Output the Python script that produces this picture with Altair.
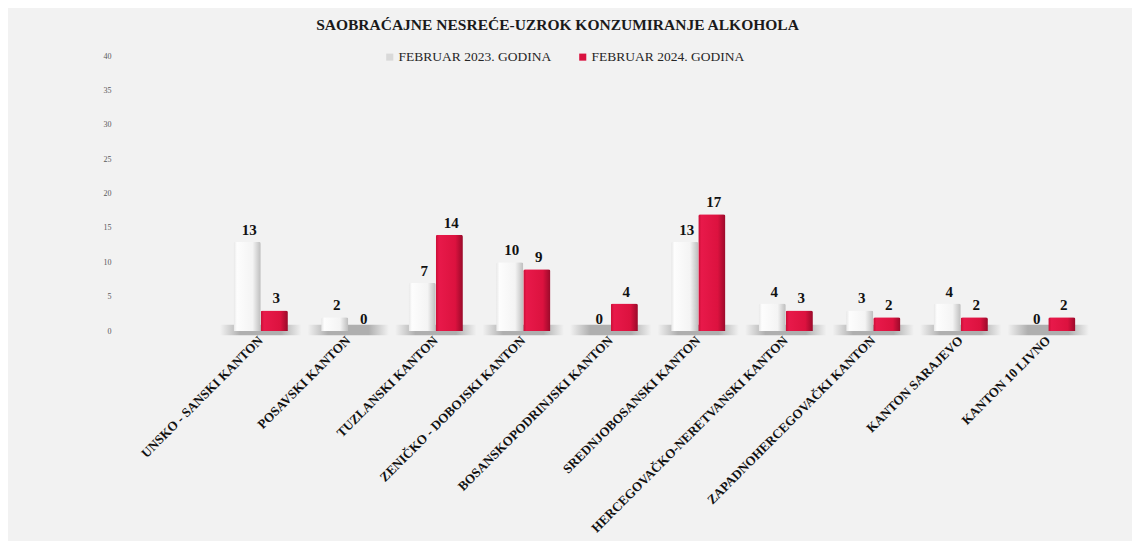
import altair as alt
import pandas as pd

categories = [
    "UNSKO - SANSKI KANTON",
    "POSAVSKI KANTON",
    "TUZLANSKI KANTON",
    "ZENIČKO - DOBOJSKI KANTON",
    "BOSANSKOPODRINJSKI KANTON",
    "SREDNJOBOSANSKI KANTON",
    "HERCEGOVAČKO-NERETVANSKI KANTON",
    "ZAPADNOHERCEGOVAČKI KANTON",
    "KANTON SARAJEVO",
    "KANTON 10 LIVNO",
]
series = ["FEBRUAR 2023. GODINA", "FEBRUAR  2024. GODINA"]
vals_2023 = [13, 2, 7, 10, 0, 13, 4, 3, 4, 0]
vals_2024 = [3, 0, 14, 9, 4, 17, 3, 2, 2, 2]
y_ticks = [0, 5, 10, 15, 20, 25, 30, 35, 40]
title_text = "SAOBRAĆAJNE NESREĆE-UZROK KONZUMIRANJE ALKOHOLA"

rows = []
for c, a, b in zip(categories, vals_2023, vals_2024):
    rows.append({"kanton": c, "serija": series[0], "broj": a})
    rows.append({"kanton": c, "serija": series[1], "broj": b})
df = pd.DataFrame(rows)
floor = pd.DataFrame({"kanton": categories, "broj": [-0.6] * len(categories), "hi": [0.9] * len(categories)})

serif = "Liberation Serif"

x_enc = alt.X(
    "kanton:N",
    sort=categories,
    scale=alt.Scale(paddingInner=0.38, paddingOuter=0.19),
    axis=alt.Axis(
        title=None, labelAngle=-45, labelAlign="right", labelBaseline="middle",
        labelFont=serif, labelFontSize=13, labelFontWeight="bold", labelColor="#111111",
        labelPadding=7, ticks=False, domain=False, labelLimit=400,
    ),
)
y_axis = alt.Axis(
    title=None, values=y_ticks, tickCount=9, grid=False, domain=False, ticks=False,
    labelOverlap=False, labelFont=serif, labelFontSize=8, labelColor="#595959",
    labelPadding=106,
)
y_enc = alt.Y("broj:Q", scale=alt.Scale(domain=[0, 40], nice=False), axis=y_axis)
xoff = alt.XOffset("serija:N", scale=alt.Scale(domain=series, paddingInner=0.0))

shadow = alt.Chart(floor).mark_bar(
    width=alt.RelativeBandSize(1.5),
    fill=alt.Gradient(
        gradient="linear", x1=0, y1=0, x2=1, y2=0,
        stops=[
            alt.GradientStop(offset=0, color="rgba(120,120,120,0)"),
            alt.GradientStop(offset=0.25, color="rgba(120,120,120,0.55)"),
            alt.GradientStop(offset=0.75, color="rgba(120,120,120,0.55)"),
            alt.GradientStop(offset=1, color="rgba(120,120,120,0)"),
        ],
    ),
).encode(x=x_enc, y=y_enc, y2="hi:Q")

white_bars = alt.Chart(df).transform_filter(
    alt.datum.serija == series[0]
).mark_bar(
    fill=alt.Gradient(
        gradient="linear", x1=0, y1=0, x2=1, y2=0,
        stops=[
            alt.GradientStop(offset=0, color="#e6e6e6"),
            alt.GradientStop(offset=0.12, color="#fdfdfd"),
            alt.GradientStop(offset=0.7, color="#f4f4f4"),
            alt.GradientStop(offset=1, color="#bdbdbd"),
        ],
    ),
    cornerRadiusTopRight=2, cornerRadiusTopLeft=2,
).encode(x=x_enc, xOffset=xoff, y=y_enc)

red_bars = alt.Chart(df).transform_filter(
    alt.datum.serija == series[1]
).mark_bar(
    fill=alt.Gradient(
        gradient="linear", x1=0, y1=0, x2=1, y2=0,
        stops=[
            alt.GradientStop(offset=0, color="#c80e36"),
            alt.GradientStop(offset=0.12, color="#e8194a"),
            alt.GradientStop(offset=0.72, color="#dc123f"),
            alt.GradientStop(offset=1, color="#9a0a2a"),
        ],
    ),
    cornerRadiusTopRight=2, cornerRadiusTopLeft=2,
).encode(x=x_enc, xOffset=xoff, y=y_enc)

labels = alt.Chart(df).mark_text(
    font=serif, fontSize=15, fontWeight="bold", color="#111111", dy=-12, dx=2,
).encode(x=x_enc, xOffset=xoff, y=y_enc, text="broj:Q")

legend_layer = alt.Chart(df).mark_square(opacity=0, size=1).encode(
    x=x_enc,
    y=y_enc,
    color=alt.Color(
        "serija:N",
        scale=alt.Scale(domain=series, range=["#d9d9d9", "#d9123f"]),
        legend=alt.Legend(
            title=None, orient="none", legendX=166, legendY=-6, direction="horizontal",
            symbolType="square", symbolSize=50, symbolOpacity=1, symbolStrokeWidth=0,
            labelFont=serif, labelFontSize=13.5, labelColor="#262626",
            columnPadding=24, labelOffset=2,
        ),
    ),
)

chart = alt.layer(shadow, white_bars, red_bars, labels, legend_layer).properties(
    width=875,
    height=275,
    background="#f2f2f2",
    padding={"left": 95, "top": 9, "right": 40, "bottom": 25},
    title=alt.TitleParams(
        text=title_text, font=serif, fontSize=15.5, fontWeight="bold", color="#1a1a1a",
        anchor="middle", dx=-97, offset=17,
    ),
).configure_view(stroke=None)

chart.save("out.html", embed_options={"renderer": "svg", "actions": False})
